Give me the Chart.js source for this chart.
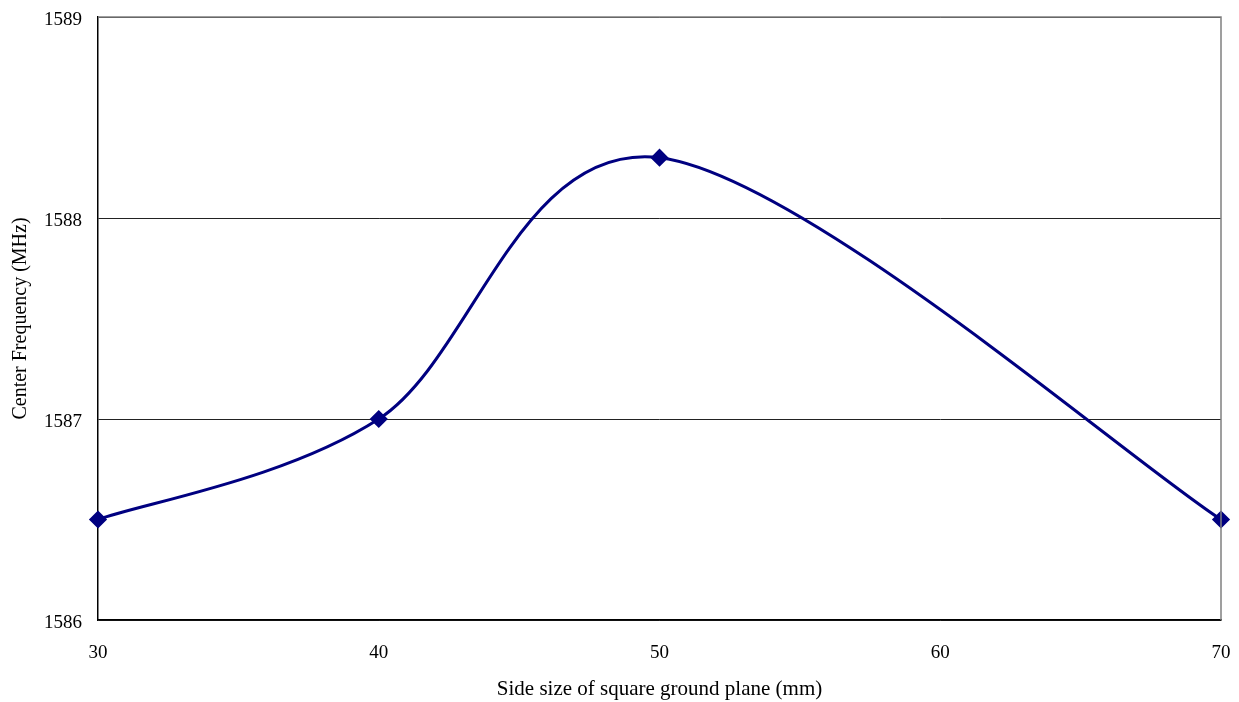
<!DOCTYPE html>
<html>
<head>
<meta charset="utf-8">
<script src="https://cdn.jsdelivr.net/npm/chart.js@4"></script>
<style>
  html, body { margin: 0; padding: 0; background: #fff; }
  #wrap { width: 1239px; height: 702px; }
</style>
</head>
<body>
<div id="wrap"><canvas id="mainChart" width="1239" height="702"></canvas></div>
<script>
// side size of ground plane (mm) and measured center frequency (MHz)
const sideSizes = [30, 40, 50, 70];
const centerFreqs = [1586.5, 1587.0, 1588.3, 1586.5];
const xTicks = [30, 40, 50, 60, 70];
const yTicks = [1586, 1587, 1588, 1589];

const FONT = "'Liberation Serif', 'Times New Roman', serif";

// frame on top and right side, gray like the original
const framePlugin = {
    id: 'frame',
    afterDraw(chart) {
        const a = chart.chartArea, ctx = chart.ctx;
        ctx.save();
        ctx.strokeStyle = '#808080';
        ctx.lineWidth = 1.5;
        ctx.beginPath();
        ctx.moveTo(a.left, a.top);
        ctx.lineTo(a.right, a.top);
        ctx.lineTo(a.right, a.bottom);
        ctx.stroke();
        ctx.restore();
    }
};

// spreadsheet-style smoothing: tangent = (next - prev) / 6, on the pixel points the scales gave
const smoothPlugin = {
    id: 'smooth',
    afterDatasetsUpdate(chart) {
        chart.getSortedVisibleDatasetMetas().forEach(meta => {
            const pts = meta.data, n = pts.length;
            pts.forEach((p, i) => {
                const prev = pts[Math.max(0, i - 1)], next = pts[Math.min(n - 1, i + 1)];
                const tx = (next.x - prev.x) / 6, ty = (next.y - prev.y) / 6;
                p.cp1x = p.x - tx; p.cp1y = p.y - ty;
                p.cp2x = p.x + tx; p.cp2y = p.y + ty;
            });
            meta.dataset._pointsUpdated = true;
        });
    }
};

const ctx = document.getElementById('mainChart').getContext('2d');
const chart = new Chart(ctx, {
    type: 'line',
    data: {
        datasets: [{
            data: sideSizes.map((x, i) => ({ x: x, y: centerFreqs[i] })),
            borderColor: '#000080',
            backgroundColor: '#000080',
            borderWidth: 3,
            tension: 0.4,
            pointStyle: 'rectRot',
            pointRadius: 7,
            pointHoverRadius: 7,
            fill: false,
            clip: false
        }]
    },
    options: {
        responsive: false,
        animation: false,
        layout: { padding: { top: 17, right: 18, left: 0, bottom: 0 } },
        plugins: { legend: { display: false }, tooltip: { enabled: false } },
        scales: {
            x: {
                type: 'linear',
                min: 30, max: 70,
                afterBuildTicks: s => { s.ticks = xTicks.map(v => ({ value: v })); },
                afterFit: s => { s.height = 82; s.paddingLeft = 0; s.paddingRight = 0; },
                grid: { display: false, drawTicks: false },
                border: { color: '#000', width: 1.5 },
                ticks: { color: '#000', font: { family: FONT, size: 19 }, padding: 22, maxRotation: 0,
                         callback: v => String(v) },
                title: { display: true, text: 'Side size of square ground plane (mm)', color: '#000',
                         font: { family: FONT, size: 21 }, padding: { top: 5, bottom: 0 } }
            },
            y: {
                type: 'linear',
                min: 1586, max: 1589,
                afterBuildTicks: s => { s.ticks = yTicks.map(v => ({ value: v })); },
                afterFit: s => { s.width = 98; s.paddingTop = 0; s.paddingBottom = 0; },
                grid: { color: '#222', lineWidth: 1, drawTicks: false },
                border: { color: '#000', width: 1.5 },
                ticks: { color: '#000', font: { family: FONT, size: 19 }, padding: 16, labelOffset: 3,
                         callback: v => String(v) },
                title: { display: true, text: 'Center Frequency (MHz)', color: '#000',
                         font: { family: FONT, size: 20 }, padding: { top: 9, bottom: 0 } }
            }
        }
    },
    plugins: [framePlugin, smoothPlugin]
});
</script>
</body>
</html>
